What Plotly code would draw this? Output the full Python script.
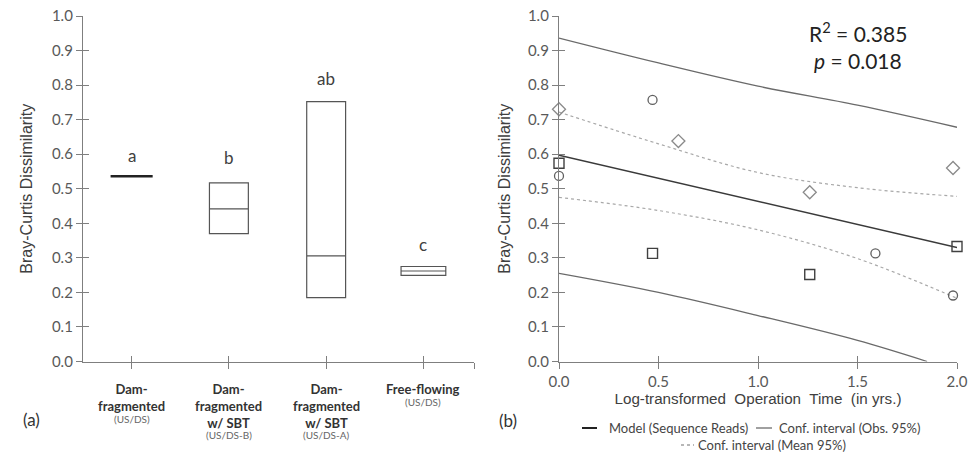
import plotly.graph_objects as go

# ---------------- data ----------------
categories = ["Dam-fragmented (US/DS)", "Dam-fragmented w/ SBT (US/DS-B)",
              "Dam-fragmented w/ SBT (US/DS-A)", "Free-flowing (US/DS)"]
cat_bold = ["Dam-<br>fragmented", "Dam-<br>fragmented<br>w/ SBT",
            "Dam-<br>fragmented<br>w/ SBT", "Free-flowing"]
cat_small = ["(US/DS)", "(US/DS-B)", "(US/DS-A)", "(US/DS)"]
box_q1 = [0.5355, 0.370, 0.185, 0.249]
box_median = [0.536, 0.442, 0.306, 0.262]
box_q3 = [0.5365, 0.517, 0.752, 0.275]
sig_letters = ["a", "b", "ab", "c"]
letter_y = [0.595, 0.59, 0.82, 0.34]

circle_x = [0.0, 0.47, 1.59, 1.98]
circle_y = [0.537, 0.757, 0.313, 0.191]
square_x = [0.0, 0.47, 1.26, 2.0]
square_y = [0.574, 0.313, 0.252, 0.333]
diamond_x = [0.0, 0.60, 1.26, 1.98]
diamond_y = [0.730, 0.638, 0.490, 0.560]

model_x = [0.0, 2.0]
model_y = [0.597, 0.330]
ci_x = [0.0, 0.5, 1.0, 1.5, 2.0]
obs_upper = [0.936, 0.864, 0.797, 0.742, 0.678]
obs_lower_x = [0.0, 0.5, 1.0, 1.5, 1.85]
obs_lower = [0.255, 0.200, 0.133, 0.061, 0.0]
mean_upper = [0.722, 0.630, 0.547, 0.503, 0.478]
mean_lower = [0.475, 0.437, 0.381, 0.298, 0.183]

y_ticks = [0.0, 0.1, 0.2, 0.3, 0.4, 0.5, 0.6, 0.7, 0.8, 0.9, 1.0]
x_ticks_b = [0.0, 0.5, 1.0, 1.5, 2.0]

# ---------------- geometry ----------------
W, H = 974, 452
def px(x): return x / W
def py(y): return 1 - y / H

LX = [px(83), px(474)]
RX = [px(559), px(957)]
YD = [py(361.5), py(16)]

AX = "#7f7f7f"
TXT = "#595959"
LAB = "Lato, 'Open Sans', sans-serif"
ARIAL = "'Liberation Sans', Arial, sans-serif"

fig = go.Figure()

# ---- panel (a) boxes ----
widths = [0.41, 0.40, 0.40, 0.46]
for i in range(4):
    thick = (i == 0)
    fig.add_trace(go.Box(
        x=[i], q1=[box_q1[i]], median=[box_median[i]], q3=[box_q3[i]],
        lowerfence=[box_q1[i]], upperfence=[box_q3[i]],
        width=widths[i], fillcolor="white",
        line=dict(color="#222222" if thick else "#555555", width=2.2 if thick else 1.2),
        whiskerwidth=0.2, boxpoints=False, showlegend=False, hoverinfo="skip",
        xaxis="x", yaxis="y"))

# ---- panel (b) lines ----
fig.add_trace(go.Scatter(x=ci_x, y=obs_upper, mode="lines", line=dict(color="#6a6a6a", width=1.3, shape="spline"),
                         showlegend=False, xaxis="x2", yaxis="y2"))
fig.add_trace(go.Scatter(x=obs_lower_x, y=obs_lower, mode="lines", line=dict(color="#6a6a6a", width=1.3, shape="spline"),
                         showlegend=False, xaxis="x2", yaxis="y2"))
fig.add_trace(go.Scatter(x=ci_x, y=mean_upper, mode="lines", line=dict(color="#a8a8a8", width=1.2, dash="dot", shape="spline"),
                         showlegend=False, xaxis="x2", yaxis="y2"))
fig.add_trace(go.Scatter(x=ci_x, y=mean_lower, mode="lines", line=dict(color="#a8a8a8", width=1.2, dash="dot", shape="spline"),
                         showlegend=False, xaxis="x2", yaxis="y2"))
fig.add_trace(go.Scatter(x=model_x, y=model_y, mode="lines", line=dict(color="#3a3a3a", width=1.6),
                         showlegend=False, xaxis="x2", yaxis="y2"))

# ---- panel (b) markers ----
fig.add_trace(go.Scatter(x=circle_x, y=circle_y, mode="markers",
                         marker=dict(symbol="circle-open", size=9, color="#606060", line=dict(width=1.3)),
                         showlegend=False, xaxis="x2", yaxis="y2", cliponaxis=False))
fig.add_trace(go.Scatter(x=square_x, y=square_y, mode="markers",
                         marker=dict(symbol="square-open", size=10, color="#404040", line=dict(width=1.4)),
                         showlegend=False, xaxis="x2", yaxis="y2", cliponaxis=False))
fig.add_trace(go.Scatter(x=diamond_x, y=diamond_y, mode="markers",
                         marker=dict(symbol="diamond-open", size=10, color="#8a8a8a", line=dict(width=1.3)),
                         showlegend=False, xaxis="x2", yaxis="y2", cliponaxis=False))

# invisible traces for crossing-tick overlay axes
fig.add_trace(go.Scatter(x=[None], y=[None], xaxis="x3", yaxis="y3", showlegend=False))
fig.add_trace(go.Scatter(x=[None], y=[None], xaxis="x4", yaxis="y4", showlegend=False))

tickfont = dict(family=LAB, size=15, color=TXT)
def ytitle(standoff):
    return dict(text="Bray-Curtis Dissimilarity",
                font=dict(family=ARIAL, size=16, color="#404040"), standoff=standoff)
common_y = dict(range=[0, 1.0], tickvals=y_ticks, ticktext=[f"{v:.1f}" for v in y_ticks],
                showgrid=False, zeroline=False, showline=True, linecolor=AX, linewidth=1.3,
                ticks="outside", ticklen=6, tickwidth=1.3, tickcolor=AX, tickfont=tickfont,
                automargin=False, domain=YD)

ov = dict(showticklabels=False, showline=False, showgrid=False, zeroline=False,
          ticks="inside", ticklen=6, tickwidth=1.3, tickcolor=AX, automargin=False)

fig.update_layout(
    width=W, height=H, margin=dict(l=0, r=0, t=0, b=0, autoexpand=False),
    paper_bgcolor="white", plot_bgcolor="white", showlegend=False,
    xaxis=dict(domain=LX, range=[-0.5, 3.52], tickvals=[0, 1, 2, 3, 3.52], showticklabels=False,
               showgrid=False, zeroline=False, showline=True, linecolor=AX, linewidth=1.3,
               ticks="outside", ticklen=6, tickwidth=1.3, tickcolor=AX, anchor="y", automargin=False),
    yaxis=dict(anchor="x", title=ytitle(15), **common_y),
    xaxis2=dict(domain=RX, range=[0, 2.0], tickvals=x_ticks_b, ticktext=[f"{v:.1f}" for v in x_ticks_b],
                showgrid=False, zeroline=False, showline=True, linecolor=AX, linewidth=1.3,
                ticks="outside", ticklen=6, tickwidth=1.3, tickcolor=AX, tickfont=tickfont, anchor="y2",
                automargin=False,
                title=dict(text="Log-transformed  Operation  Time  (in yrs.)",
                           font=dict(family=ARIAL, size=15.2, color="#404040"), standoff=1)),
    yaxis2=dict(anchor="x2", title=ytitle(13), **common_y),
    xaxis3=dict(domain=LX, range=[-0.5, 3.52], overlaying="x", anchor="y3", tickvals=[0, 1, 2, 3, 3.52], **ov),
    yaxis3=dict(domain=YD, range=[0, 1.0], overlaying="y", anchor="x3", tickvals=y_ticks, **ov),
    xaxis4=dict(domain=RX, range=[0, 2.0], overlaying="x2", anchor="y4", tickvals=x_ticks_b, **ov),
    yaxis4=dict(domain=YD, range=[0, 1.0], overlaying="y2", anchor="x4", tickvals=y_ticks, **ov),
)

ann = []
for i in range(4):
    ann.append(dict(x=i, y=letter_y[i], xref="x", yref="y", text=sig_letters[i], showarrow=False,
                    yanchor="middle", font=dict(family=LAB, size=17, color="#404040")))
small_y = [419, 435, 435, 402]
for i in range(4):
    ann.append(dict(x=i, y=py(379), xref="x", yref="paper", yanchor="top", text="<b>" + cat_bold[i] + "</b>",
                    showarrow=False, font=dict(family=LAB, size=13, color="#333333")))
    ann.append(dict(x=i, y=py(small_y[i]), xref="x", yref="paper", yanchor="middle", text=cat_small[i],
                    showarrow=False, font=dict(family=LAB, size=10, color="#666666")))
ann.append(dict(x=px(21), y=py(419), xref="paper", yref="paper", yanchor="middle", text="(a)", showarrow=False,
                font=dict(family=LAB, size=17, color="#333333")))
ann.append(dict(x=px(508), y=py(420), xref="paper", yref="paper", yanchor="middle", text="(b)", showarrow=False,
                font=dict(family=LAB, size=17, color="#333333")))
ann.append(dict(x=1.5, y=0.955, xref="x2", yref="y2", yanchor="middle", text="R<sup>2</sup> = 0.385", showarrow=False,
                font=dict(family=LAB, size=21, color="#222222")))
ann.append(dict(x=1.5, y=0.87, xref="x2", yref="y2", yanchor="middle", text="<i>p</i> = 0.018", showarrow=False,
                font=dict(family=LAB, size=21, color="#222222")))
leg_font = dict(family=LAB, size=13, color="#444444")
ann.append(dict(x=px(607), y=py(428), xref="paper", yref="paper", xanchor="left", yanchor="middle",
                text="Model (Sequence Reads)", showarrow=False, font=leg_font))
ann.append(dict(x=px(777), y=py(428), xref="paper", yref="paper", xanchor="left", yanchor="middle",
                text="Conf. interval (Obs. 95%)", showarrow=False, font=leg_font))
ann.append(dict(x=px(696), y=py(445), xref="paper", yref="paper", xanchor="left", yanchor="middle",
                text="Conf. interval (Mean 95%)", showarrow=False, font=leg_font))
fig.update_layout(annotations=ann)

shapes = [
    dict(type="line", xref="paper", yref="paper", x0=px(582), x1=px(597), y0=py(428), y1=py(428),
         line=dict(color="#222222", width=2)),
    dict(type="line", xref="paper", yref="paper", x0=px(756), x1=px(772), y0=py(428), y1=py(428),
         line=dict(color="#808080", width=1.5)),
    dict(type="line", xref="paper", yref="paper", x0=px(681), x1=px(694), y0=py(445), y1=py(445),
         line=dict(color="#a0a0a0", width=1.5, dash="dot")),
]
fig.update_layout(shapes=shapes)

fig.write_html("out.html", config={"displayModeBar": False},
               post_script="document.body.style.margin='0';document.body.style.overflow='hidden';")
